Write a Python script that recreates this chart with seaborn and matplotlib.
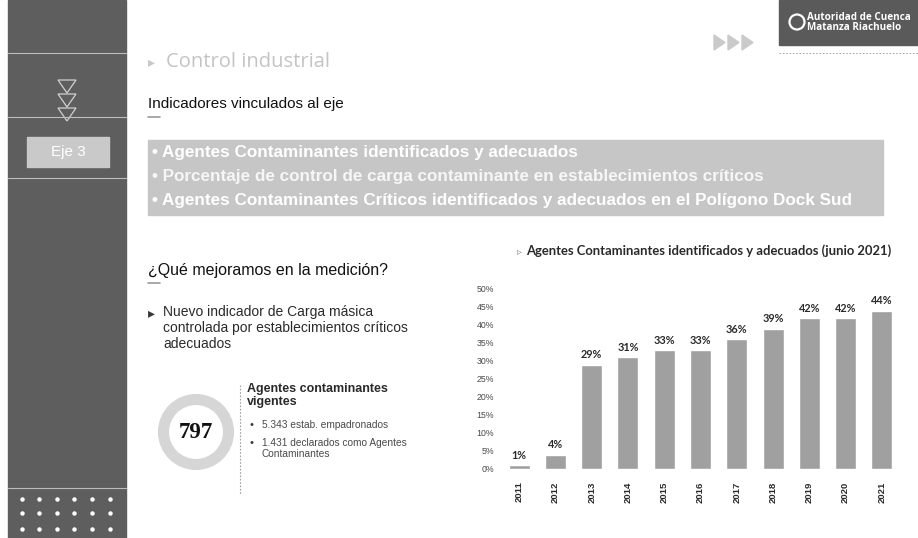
import numpy as np
import pandas as pd
import seaborn as sns
import matplotlib.pyplot as plt
from matplotlib.patches import Rectangle, Circle, Polygon
from matplotlib.ticker import FuncFormatter

sns.set_style('white')
plt.rcParams['font.family'] = ['Liberation Sans', 'DejaVu Sans']

# datos del grafico
anios = ['2011', '2012', '2013', '2014', '2015', '2016', '2017', '2018', '2019', '2020', '2021']
porcentajes = [1, 4, 29, 31, 33, 33, 36, 39, 42, 42, 44]
ticks_y = [0, 5, 10, 15, 20, 25, 30, 35, 40, 45, 50]

indicadores = [
    '• Agentes Contaminantes identificados y adecuados',
    '• Porcentaje de control de carga contaminante en establecimientos críticos',
    '• Agentes Contaminantes Críticos identificados y adecuados en el Polígono Dock Sud',
]
detalle = ['5.343 estab. empadronados', '1.431 declarados como Agentes\nContaminantes']

W, H = 918, 538


def px(x, y):
    # pixeles de la imagen -> fraccion de figura
    return x / W, 1 - y / H


fig = plt.figure(figsize=(W / 100, H / 100), dpi=100)

# barra lateral
fig.patches.append(Rectangle(px(8, 538), 118 / W, 538 / H, transform=fig.transFigure,
                             color='#5e5e5e', zorder=0))
for yy in [53, 117, 178, 488]:
    fig.add_artist(plt.Line2D([8 / W, 126 / W], [1 - yy / H] * 2, color='#bdbdbd', lw=0.8))
for k in range(3):
    y0 = 80 + k * 14
    fig.add_artist(Polygon([px(58, y0), px(76, y0), px(67, y0 + 13)], closed=True,
                           fill=False, ec='#d0d0d0', lw=0.9, transform=fig.transFigure))
fig.patches.append(Rectangle(px(27, 167), 82 / W, 30 / H, transform=fig.transFigure,
                             color='#c9c9c9', zorder=1))
fig.text(*px(68, 152), 'Eje 3', color='white', fontsize=11, ha='center', va='center', zorder=2)
for yy in [499, 513, 529]:
    for xx in [22, 39, 57, 74, 92, 110]:
        fig.add_artist(plt.Line2D([xx / W], [1 - yy / H], marker='o', ms=2.2, color='white', lw=0))

# cabecera
fig.text(*px(148, 62), '▸', color='#c8c8c8', fontsize=10, va='center')
fig.text(*px(166, 62), 'Control industrial', color='#c4c4c4', fontsize=14.5, va='center',
         family=['Open Sans', 'DejaVu Sans'])
for k in range(3):
    x0 = 714 + k * 14
    fig.add_artist(Polygon([px(x0, 35), px(x0, 50), px(x0 + 11, 42.5)], closed=True,
                           color='#cacaca', transform=fig.transFigure))
fig.patches.append(Rectangle(px(779, 45), 139 / W, 45 / H, transform=fig.transFigure,
                             color='#5a5a5a', zorder=0))
fig.add_artist(Circle((797 / 100, (H - 22) / 100), 0.075, transform=fig.dpi_scale_trans,
                      fill=False, ec='white', lw=1.6))
fig.text(*px(807, 17), 'Autoridad de Cuenca', color='white', fontsize=7.1, va='center',
         fontweight='bold', family=['Open Sans', 'DejaVu Sans'])
fig.text(*px(807, 28), 'Matanza Riachuelo', color='white', fontsize=7.1, va='center',
         fontweight='bold', family=['Open Sans', 'DejaVu Sans'])
fig.add_artist(plt.Line2D([779 / W, 1], [1 - 53 / H] * 2, color='#9a9a9a', lw=0.6, ls=(0, (2, 2))))

# indicadores
fig.text(*px(148, 104), 'Indicadores vinculados al eje', fontsize=11, color='#111111',
         va='center')
fig.add_artist(plt.Line2D([148 / W, 160 / W], [1 - 117 / H] * 2, color='#9a9a9a', lw=1.2))
fig.patches.append(Rectangle(px(148, 215), 735 / W, 75 / H, transform=fig.transFigure,
                             color='#c6c6c6', zorder=0))
for k, txt in enumerate(indicadores):
    fig.text(*px(152, 153 + k * 23.5), txt, color='white', fontsize=12.3, fontweight='bold',
             va='center', alpha=0.85 if k == 1 else 1)

# que mejoramos
fig.text(*px(148, 270), '¿Qué mejoramos en la medición?', fontsize=11.5, color='#111111',
         va='center')
fig.add_artist(plt.Line2D([148 / W, 160 / W], [1 - 283 / H] * 2, color='#9a9a9a', lw=1.2))
fig.text(*px(148, 313), '▸', fontsize=10, color='#3a3a3a', va='center')
fig.text(*px(163, 305), 'Nuevo indicador de Carga másica\ncontrolada por establecimientos críticos\nadecuados',
         fontsize=10, color='#2a2a2a', va='top', linespacing=1.2)

fig.add_artist(Circle((196 / 100, (H - 432) / 100), 0.325, transform=fig.dpi_scale_trans,
                      fill=False, ec='#d6d6d6', lw=8))
fig.text(*px(196, 433), '797', fontsize=16.5, color='#111111', ha='center', va='center',
         fontweight='bold', family=['Liberation Serif', 'DejaVu Serif'])
fig.add_artist(plt.Line2D([240 / W] * 2, [1 - 385 / H, 1 - 495 / H], color='#a0a0a0', lw=0.8,
                          ls=(0, (1.5, 1.5))))
fig.text(*px(247, 383), 'Agentes contaminantes\nvigentes', fontsize=9, fontweight='bold',
         color='#2a2a2a', va='top', linespacing=1.15)
fig.text(*px(250, 425), '•', fontsize=8, color='#3a3a3a', va='center')
fig.text(*px(262, 425), detalle[0], fontsize=7.3, color='#4a4a4a', va='center')
fig.text(*px(250, 443), '•', fontsize=8, color='#3a3a3a', va='center')
fig.text(*px(262, 438), detalle[1], fontsize=7.3, color='#4a4a4a', va='top', linespacing=1.1)

# grafico de barras
df = pd.DataFrame({'anio': anios, 'valor': porcentajes})
ax = fig.add_axes([501 / W, 1 - 469 / H, 399 / W, 180 / H])
sns.barplot(data=df, x='anio', y='valor', color='#a0a0a0', width=0.58, saturation=1, ax=ax)
ax.set_ylim(0, 50)
ax.set_yticks(ticks_y)
ax.yaxis.set_major_formatter(FuncFormatter(lambda v, p: f'{v:.0f}%'))
ax.bar_label(ax.containers[0], labels=[f'{v}%' for v in porcentajes], padding=3,
             fontsize=7.8, fontweight='bold', color='#2a2a2a', family=['Lato', 'DejaVu Sans'])
ax.set_xlabel('')
ax.set_ylabel('')
ax.tick_params(axis='y', labelsize=6.3, colors='#4a4a4a', length=0, pad=5)
ax.tick_params(axis='x', labelsize=6.8, colors='#2a2a2a', length=0, pad=9, rotation=90)
for lab in ax.get_xticklabels():
    lab.set_fontweight('bold')
sns.despine(ax=ax, left=True, bottom=True)
ax.patch.set_alpha(0)

fig.text(*px(517, 251), '▹', fontsize=7, color='#8a8a8a', va='center')
fig.text(*px(526, 251), 'Agentes Contaminantes identificados y adecuados (junio 2021)',
         fontsize=9.4, fontweight='bold', color='#2a2a2a', va='center',
         family=['Lato', 'DejaVu Sans'])

fig.savefig('out.png', dpi=100)
